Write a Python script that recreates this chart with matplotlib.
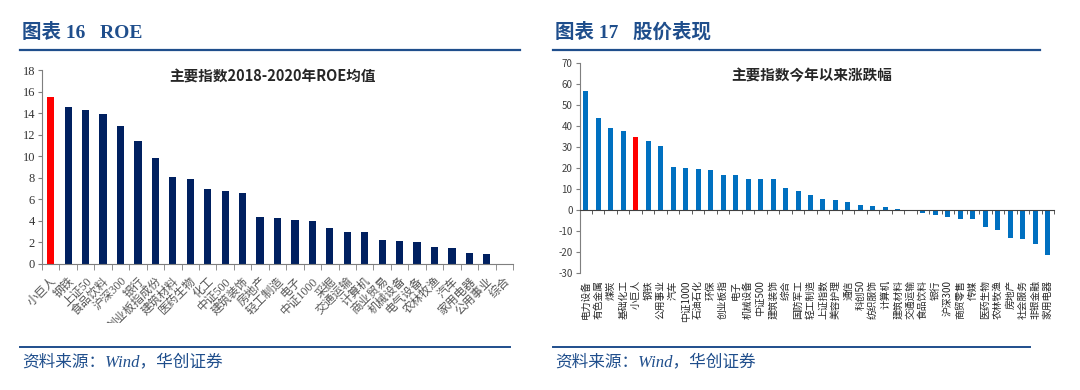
import numpy as np
import matplotlib
matplotlib.use("Agg")
import matplotlib.pyplot as plt
from matplotlib.transforms import Bbox, TransformedBbox

plt.rcParams["font.family"] = ["Noto Sans CJK SC", "DejaVu Sans"]
plt.rcParams["axes.unicode_minus"] = False

# ---- data: figure 16, ROE 2018-2020 average ----
roe_names = ["小巨人", "钢铁", "上证50", "食品饮料", "沪深300", "银行", "创业板指成份",
             "建筑材料", "医药生物", "化工", "中证500", "建筑装饰", "房地产", "轻工制造",
             "电子", "中证1000", "采掘", "交通运输", "计算机", "商业贸易", "机械设备",
             "电气设备", "农林牧渔", "汽车", "家用电器", "公用事业", "综合"]
roe_values = [15.5, 14.55, 14.25, 13.95, 12.85, 11.45, 9.8, 8.1, 7.85, 7.0, 6.8, 6.55,
              4.4, 4.3, 4.1, 3.95, 3.3, 3.0, 3.0, 2.25, 2.15, 2.05, 1.6, 1.5, 1.05, 0.95, 0.0]

# ---- data: figure 17, price change this year ----
chg_names = ["电力设备", "有色金属", "煤炭", "基础化工", "小巨人", "钢铁", "公用事业", "汽车",
             "中证1000", "石油石化", "环保", "创业板指", "电子", "机械设备", "中证500",
             "建筑装饰", "综合", "国防军工", "轻工制造", "上证指数", "美容护理", "通信",
             "科创50", "纺织服饰", "计算机", "建筑材料", "交通运输", "食品饮料", "银行",
             "沪深300", "商贸零售", "传媒", "医药生物", "农林牧渔", "房地产", "社会服务",
             "非银金融", "家用电器"]
chg_values = [56.8, 43.7, 39.1, 37.5, 34.6, 32.9, 30.3, 20.5, 19.7, 19.4, 18.9, 16.5, 16.5,
              14.8, 14.8, 14.5, 10.3, 8.9, 7.0, 5.2, 4.6, 3.5, 2.5, 1.7, 1.4, 0.6, -0.2,
              -1.3, -2.7, -3.5, -4.3, -4.6, -8.4, -9.8, -13.3, -13.8, -16.5, -21.5]
highlight = "小巨人"

BLUE_HDR = "#1F4E8C"
AXIS_C = "#7f7f7f"
SERIF = ["Liberation Serif", "Noto Sans CJK SC"]

fig = plt.figure(figsize=(10.8, 3.9), dpi=100)
W, H = 1080, 390


def fx(px):
    return px / W


def fy(py):
    return 1 - py / H


# headers, rules, footers
for x0, x1, head in [(20, 520, "图表 16   ROE"), (553, 1040, "图表 17   股价表现")]:
    fig.text(fx(x0 + 2), fy(32), head, family=SERIF, weight="bold", fontsize=14,
             color=BLUE_HDR, va="center", ha="left")
    fig.add_artist(plt.Line2D([fx(x0), fx(x1)], [fy(49.5), fy(49.5)], color=BLUE_HDR, lw=1.6))
    fig.add_artist(plt.Line2D([fx(x0), fx(x1 - 10)], [fy(347), fy(347)], color=BLUE_HDR, lw=1.4))
    fig.text(fx(x0 + 2), fy(362), "资料来源：Wind，华创证券", family=SERIF, style="italic",
             fontsize=12, color=BLUE_HDR, va="center", ha="left")

# ---- left chart ----
ax1 = fig.add_axes([fx(42), fy(264), fx(471), (264 - 70) / H])
n1 = len(roe_names)
x1 = np.arange(n1)
c1 = ["#FF0000" if n == highlight else "#002060" for n in roe_names]
ax1.bar(x1, roe_values, width=0.42, color=c1)
ax1.set_xlim(-0.5, n1 - 0.5)
ax1.set_ylim(0, 18)
ax1.set_yticks(np.arange(0, 19, 2))
ax1.set_xticks(x1)
ax1.set_xticks(np.arange(-0.5, n1), minor=True)
ax1.set_xticklabels(roe_names, rotation=45, ha="right", va="top", rotation_mode="anchor",
                    family=SERIF, fontsize=8.5, color="#555555")
ax1.tick_params(axis="x", which="major", length=0, pad=8)
ax1.tick_params(axis="x", which="minor", length=4, direction="out", color=AXIS_C)
ax1.tick_params(axis="y", length=3, direction="out", color=AXIS_C, labelsize=9,
                labelcolor="#333333", pad=2)
for lab in ax1.get_yticklabels():
    lab.set_family(SERIF)
for s in ["top", "right"]:
    ax1.spines[s].set_visible(False)
for s in ["left", "bottom"]:
    ax1.spines[s].set_color(AXIS_C)
ax1.text(0.49, 0.965, "主要指数2018-2020年ROE均值", transform=ax1.transAxes, ha="center",
         va="center", fontsize=10.5, weight="bold", color="#262626")
clip1 = TransformedBbox(Bbox([[0, fy(323)], [0.5, 1]]), fig.transFigure)
for lab in ax1.get_xticklabels():
    lab.set_clip_box(clip1)
    lab.set_clip_on(True)

# ---- right chart ----
ax2 = fig.add_axes([fx(579.5), fy(272.7), fx(474.5), (272.7 - 63) / H])
n2 = len(chg_names)
x2 = np.arange(n2)
c2 = ["#FF0000" if n == highlight else "#0070C0" for n in chg_names]
ax2.bar(x2, chg_values, width=0.4, color=c2)
ax2.set_xlim(-0.5, n2 - 0.5)
ax2.set_ylim(-30, 70)
ax2.set_yticks(np.arange(-30, 71, 10))
ax2.set_xticks([])
ax2.set_xticks(np.arange(-0.5, n2), minor=True)
ax2.spines["bottom"].set_position(("data", 0))
ax2.tick_params(axis="x", which="minor", length=3, direction="out", color="#404040")
ax2.tick_params(axis="y", length=3, direction="out", color=AXIS_C, labelsize=7,
                labelcolor="#404040", pad=2)
for s in ["top", "right"]:
    ax2.spines[s].set_visible(False)
ax2.spines["left"].set_color(AXIS_C)
ax2.spines["bottom"].set_color("#404040")
for xi, name in zip(x2, chg_names):
    ax2.text(xi, -0.035, name, transform=ax2.get_xaxis_transform(), rotation=90,
             ha="center", va="top", fontsize=7, color="#262626")
ax2.text(0.49, 0.94, "主要指数今年以来涨跌幅", transform=ax2.transAxes, ha="center",
         va="center", fontsize=10.5, weight="bold", color="#262626")

fig.savefig("out.png", dpi=100)
